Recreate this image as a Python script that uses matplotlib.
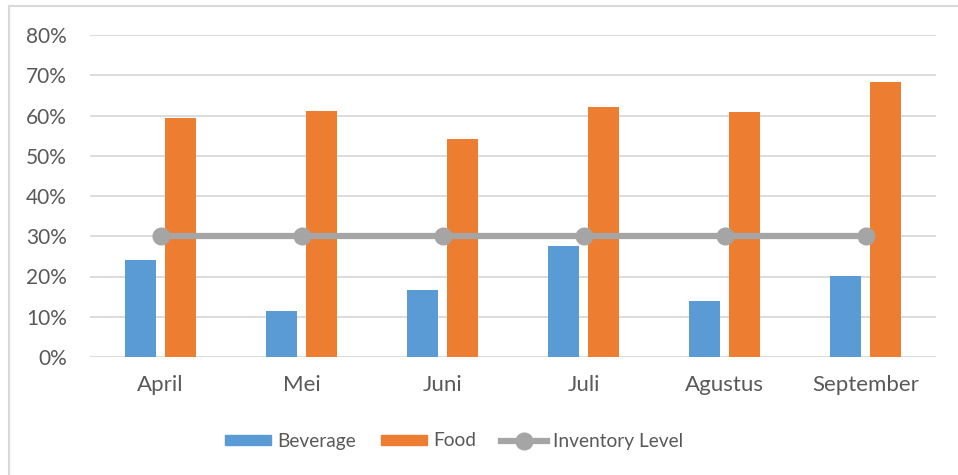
import matplotlib
matplotlib.use("Agg")
import matplotlib.pyplot as plt
from matplotlib.lines import Line2D
import numpy as np

months = ["April", "Mei", "Juni", "Juli", "Agustus", "September"]
beverage = [0.242, 0.114, 0.166, 0.277, 0.139, 0.202]
food = [0.595, 0.612, 0.542, 0.620, 0.608, 0.683]
inventory = [0.30, 0.30, 0.30, 0.30, 0.30, 0.30]
yticks = [0.0, 0.1, 0.2, 0.3, 0.4, 0.5, 0.6, 0.7, 0.8]
ytick_labels = ["0%", "10%", "20%", "30%", "40%", "50%", "60%", "70%", "80%"]

plt.rcParams['font.family'] = ['Lato', 'DejaVu Sans']
txt = "#595959"

fig = plt.figure(figsize=(9.58, 4.75), dpi=100)
ax = fig.add_axes([90/958, 1-357/475, (936-90)/958, (357-35)/475])

x = np.arange(len(months))
w = 0.22
off = 0.142
ax.bar(x - off, beverage, w, color="#5B9BD5", label="Beverage", zorder=3)
ax.bar(x + off, food, w, color="#ED7D31", label="Food", zorder=3)
ax.plot(x, inventory, color="#A5A5A5", lw=4.5, marker="o", ms=12,
        label="Inventory Level", zorder=4)

ax.set_xlim(-0.5, len(months) - 0.5)
ax.set_ylim(0, 0.8)
ax.set_yticks(yticks)
ax.set_yticklabels(ytick_labels)
ax.set_xticks(x)
ax.set_xticklabels(months)
ax.grid(axis="y", color="#D9D9D9", lw=1.3, zorder=0)
for s in ax.spines.values():
    s.set_visible(False)
ax.tick_params(axis="both", length=0, colors=txt)
ax.tick_params(axis="y", pad=16.5, labelsize=15)
ax.tick_params(axis="x", pad=13, labelsize=16)

handles = [
    plt.Rectangle((0, 0), 1, 1, color="#5B9BD5"),
    plt.Rectangle((0, 0), 1, 1, color="#ED7D31"),
    Line2D([], [], color="#A5A5A5", lw=4.5, marker="o", ms=12),
]
leg = fig.legend(handles, ["Beverage", "Food", "Inventory Level"],
                 loc="center", bbox_to_anchor=(454/958, 1-441/475), ncol=3,
                 frameon=False, fontsize=13.8, handlelength=2.4, handleheight=0.45,
                 columnspacing=1.3, handletextpad=0.32)
for t in leg.get_texts():
    t.set_color(txt)

# outer chart border (top and left visible)
fig.add_artist(Line2D([8.5/958, 8.5/958], [0, 1-6/475], color="#D9D9D9", lw=1.5,
                      transform=fig.transFigure))
fig.add_artist(Line2D([8.5/958, 1], [1-6/475, 1-6/475], color="#D9D9D9", lw=1.5,
                      transform=fig.transFigure))

fig.savefig("out.png", dpi=100)
